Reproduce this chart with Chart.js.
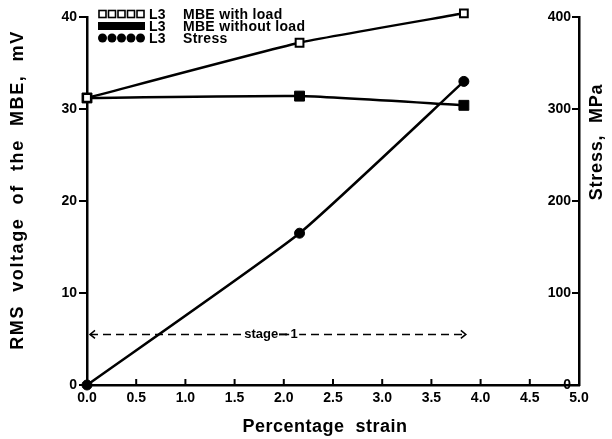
<!DOCTYPE html>
<html>
<head>
<meta charset="utf-8">
<script src="https://cdn.jsdelivr.net/npm/chart.js@4/dist/chart.umd.min.js"></script>
<style>
  html, body { margin: 0; padding: 0; background: #fff; }
</style>
</head>
<body>
<canvas id="chart" width="612" height="439"></canvas>
<script>
// ---- data ----
const strain = [0, 2.16, 3.83];
const withLoad = [31.2, 37.2, 40.4];
const withoutLoad = [31.2, 31.4, 30.4];
const stress = [0, 165, 330];

const xTicks = [0, 0.5, 1, 1.5, 2, 2.5, 3, 3.5, 4, 4.5, 5];
const leftTicks = [0, 10, 20, 30, 40];
const rightTicks = [0, 100, 200, 300, 400];

const seriesNames = ["MBE with load", "MBE without load", "Stress"];
const stageRange = [0, 3.85];
const stageLevel = 5.5;

const FONT = "'Liberation Sans', Arial, sans-serif";

function pts(ys) {
  return strain.map((x, i) => ({ x: x, y: ys[i] }));
}

function drawTitle(ctx, text, x, y, angle, size, spacing) {
  ctx.save();
  ctx.translate(x, y);
  ctx.rotate(angle);
  ctx.font = "bold " + size + "px " + FONT;
  ctx.letterSpacing = spacing + "px";
  ctx.textAlign = "center";
  ctx.textBaseline = "middle";
  ctx.fillStyle = "#000";
  ctx.fillText(text, 0, 0);
  ctx.restore();
}

// inward ticks, legend, stage arrow, axis titles
const extras = {
  id: "extras",
  afterDraw(chart) {
    const ctx = chart.ctx;
    const xs = chart.scales.x;
    const yl = chart.scales.y;
    const yr = chart.scales.y1;
    const area = chart.chartArea;

    ctx.save();
    ctx.strokeStyle = "#000";
    ctx.lineWidth = 2;
    // x ticks pointing up
    xTicks.forEach((v) => {
      const px = xs.getPixelForValue(v);
      ctx.beginPath();
      ctx.moveTo(px, area.bottom);
      ctx.lineTo(px, area.bottom - 6);
      ctx.stroke();
    });
    // right axis ticks pointing left
    rightTicks.forEach((v) => {
      const py = yr.getPixelForValue(v);
      ctx.beginPath();
      ctx.moveTo(area.right, py);
      ctx.lineTo(area.right - 7, py);
      ctx.stroke();
    });

    // legend
    const rows = [14, 26, 38];
    const sx0 = 98, sx1 = 145;
    rows.forEach((ry, i) => {
      ctx.fillStyle = "#000";
      if (i === 0) {
        ctx.lineWidth = 1.6;
        for (let k = 0; k < 5; k++) {
          const cx = sx0 + 4.5 + k * 9.5;
          ctx.fillStyle = "#fff";
          ctx.fillRect(cx - 3.5, ry - 3.5, 7, 7);
          ctx.strokeRect(cx - 3.5, ry - 3.5, 7, 7);
        }
      } else if (i === 1) {
        ctx.fillRect(sx0, ry - 4, sx1 - sx0, 8);
      } else {
        for (let k = 0; k < 5; k++) {
          const cx = sx0 + 4.5 + k * 9.5;
          ctx.beginPath();
          ctx.arc(cx, ry, 4.5, 0, Math.PI * 2);
          ctx.fill();
        }
      }
      ctx.fillStyle = "#000";
      ctx.font = "bold 14px " + FONT;
      ctx.letterSpacing = "0.3px";
      ctx.textBaseline = "middle";
      ctx.textAlign = "left";
      ctx.fillText("L3", 149, ry + 1);
      ctx.fillText(seriesNames[i], 183, ry + 1);
    });
    ctx.letterSpacing = "0px";

    // stage 1 arrow
    const ay = yl.getPixelForValue(stageLevel);
    const ax0 = xs.getPixelForValue(stageRange[0]) + 3;
    const ax1 = xs.getPixelForValue(stageRange[1]);
    ctx.lineWidth = 1.5;
    ctx.setLineDash([8, 5]);
    ctx.beginPath();
    ctx.moveTo(ax0, ay);
    ctx.lineTo(ax1, ay);
    ctx.stroke();
    ctx.setLineDash([]);
    ctx.beginPath();
    ctx.moveTo(ax0 + 5, ay - 4);
    ctx.lineTo(ax0, ay);
    ctx.lineTo(ax0 + 5, ay + 4);
    ctx.moveTo(ax1 - 5, ay - 4);
    ctx.lineTo(ax1, ay);
    ctx.lineTo(ax1 - 5, ay + 4);
    ctx.stroke();
    ctx.font = "bold 13px " + FONT;
    ctx.textAlign = "center";
    ctx.textBaseline = "middle";
    const lx = xs.getPixelForValue(1.77);
    const w = ctx.measureText("stage").width;
    ctx.fillStyle = "#fff";
    ctx.fillRect(lx - w / 2 - 1, ay - 7, w + 2, 14);
    ctx.fillStyle = "#000";
    ctx.fillText("stage", lx, ay);
    ctx.fillRect(lx + w / 2 + 1, ay - 1, 8, 2);
    const l1 = lx + w / 2 + 16;
    ctx.fillStyle = "#fff";
    ctx.fillRect(l1 - 5, ay - 7, 10, 14);
    ctx.fillStyle = "#000";
    ctx.fillText("1", l1, ay);
    ctx.restore();

    // axis titles
    drawTitle(ctx, "RMS  voltage  of  the  MBE,  mV", 18, 190, -Math.PI / 2, 18, 1.6);
    drawTitle(ctx, "Percentage  strain", 325, 427, 0, 18, 0.5);
    drawTitle(ctx, "Stress,  MPa", 597, 142, -Math.PI / 2, 18, 0.8);
  },
};

const lineBase = {
  borderColor: "#000",
  borderWidth: 2.5,
  tension: 0.15,
  clip: false,
  pointBorderColor: "#000",
};

new Chart(document.getElementById("chart"), {
  type: "line",
  data: {
    datasets: [
      Object.assign({}, lineBase, {
        label: seriesNames[0],
        data: pts(withLoad),
        yAxisID: "y",
        pointStyle: "rect",
        pointRadius: 5.5,
        pointBackgroundColor: "#fff",
        pointBorderWidth: 2,
      }),
      Object.assign({}, lineBase, {
        label: seriesNames[1],
        data: pts(withoutLoad),
        yAxisID: "y",
        pointStyle: "rect",
        pointRadius: 7,
        pointBackgroundColor: "#000",
        pointBorderWidth: 1,
      }),
      Object.assign({}, lineBase, {
        label: seriesNames[2],
        data: pts(stress),
        yAxisID: "y1",
        pointStyle: "circle",
        pointRadius: 5,
        pointBackgroundColor: "#000",
        pointBorderWidth: 1,
      }),
    ],
  },
  options: {
    responsive: false,
    animation: false,
    devicePixelRatio: 1,
    layout: { padding: { top: 17, left: 0, right: 0, bottom: 0 } },
    plugins: { legend: { display: false }, tooltip: { enabled: false } },
    scales: {
      x: {
        type: "linear",
        position: "bottom",
        min: 0,
        max: 5,
        afterBuildTicks: (s) => { s.ticks = xTicks.map((v) => ({ value: v })); },
        afterFit: (s) => { s.height = 54; },
        ticks: {
          color: "#000",
          padding: 5,
          font: { family: FONT, size: 14, weight: "bold" },
          callback: (v) => Number(v).toFixed(1),
        },
        grid: { display: true, drawOnChartArea: false, drawTicks: false },
        border: { color: "#000", width: 2.5 },
      },
      y: {
        type: "linear",
        position: "left",
        min: 0,
        max: 40,
        afterBuildTicks: (s) => { s.ticks = leftTicks.map((v) => ({ value: v })); },
        afterFit: (s) => { s.width = 87; },
        ticks: {
          color: "#000",
          padding: 2,
          font: { family: FONT, size: 14, weight: "bold" },
        },
        grid: { display: true, drawOnChartArea: false, drawTicks: true, tickLength: 8, color: "#000", lineWidth: 2 },
        border: { color: "#000", width: 2.5 },
      },
      y1: {
        type: "linear",
        position: "right",
        min: 0,
        max: 400,
        afterBuildTicks: (s) => { s.ticks = rightTicks.map((v) => ({ value: v })); },
        afterFit: (s) => { s.width = 33; },
        ticks: {
          color: "#000",
          mirror: true,
          padding: -8,
          font: { family: FONT, size: 14, weight: "bold" },
        },
        grid: { display: true, drawOnChartArea: false, drawTicks: false },
        border: { color: "#000", width: 2.5 },
      },
    },
  },
  plugins: [extras],
});
</script>
</body>
</html>
